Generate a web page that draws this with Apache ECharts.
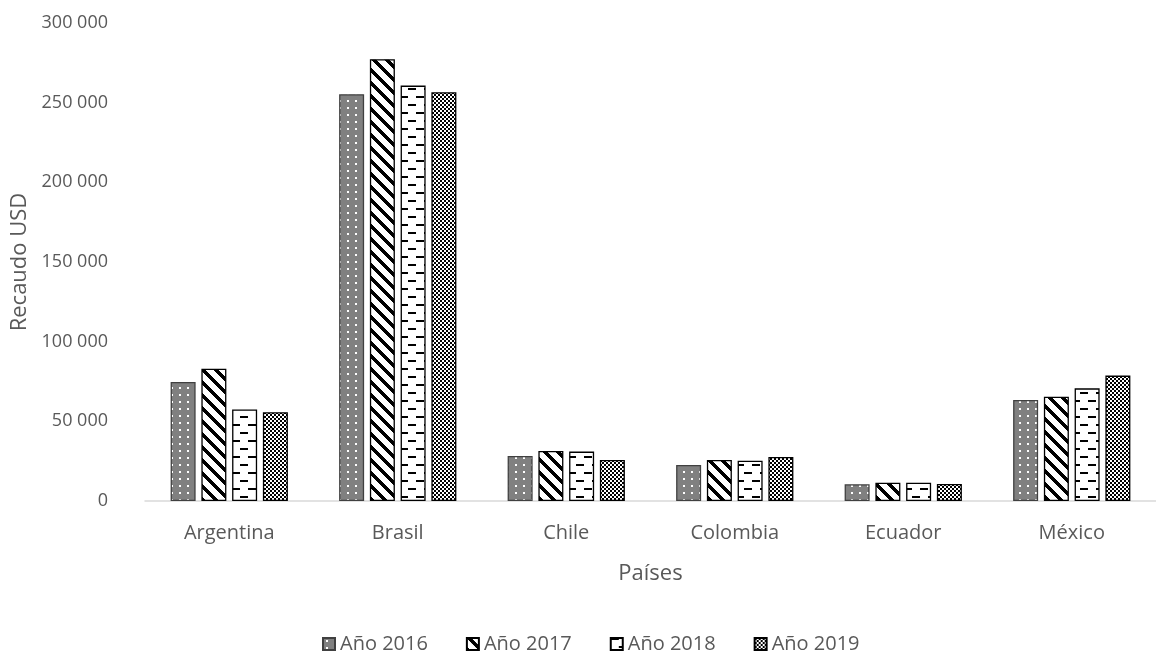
<!DOCTYPE html>
<html>
<head>
<meta charset="utf-8">
<script src="https://cdn.jsdelivr.net/npm/echarts@6/dist/echarts.min.js"></script>
<style>
html,body{margin:0;padding:0;background:#fff;}
#chart{width:1156px;height:651px;}
</style>
</head>
<body>
<div id="chart"></div>
<script>
const categories = ['Argentina', 'Brasil', 'Chile', 'Colombia', 'Ecuador', 'México'];
const seriesNames = ['Año 2016', 'Año 2017', 'Año 2018', 'Año 2019'];
const values2016 = [74700, 255300, 28200, 22600, 10500, 63400];
const values2017 = [83000, 277300, 31400, 25700, 11500, 65500];
const values2018 = [57500, 260700, 31000, 25300, 11500, 70700];
const values2019 = [55700, 256500, 25700, 27600, 10700, 78700];
const yTicks = [0, 50000, 100000, 150000, 200000, 250000, 300000];

function makeTile(w, h, fn) {
  const c = document.createElement('canvas');
  c.width = w; c.height = h;
  const ctx = c.getContext('2d');
  const img = ctx.createImageData(w, h);
  for (let y = 0; y < h; y++) {
    for (let x = 0; x < w; x++) {
      const col = fn(x, y);
      const i = (y * w + x) * 4;
      img.data[i] = col[0]; img.data[i + 1] = col[1]; img.data[i + 2] = col[2]; img.data[i + 3] = 255;
    }
  }
  ctx.putImageData(img, 0, 0);
  return { image: c, repeat: 'repeat' };
}
const W = [255, 255, 255], B = [0, 0, 0], G = [128, 128, 128];
const pat2016 = makeTile(8, 7, (x, y) => (x >= 3 && x <= 4 && y >= 2 && y <= 3) ? W : G);
const pat2017 = makeTile(13, 13, (x, y) => ((((x - y) % 13) + 13) % 13 < 5) ? B : W);
const pat2018 = makeTile(16, 16, (x, y) => {
  if ((y === 0 || y === 1) && x < 8) return B;
  if ((y === 8 || y === 9) && x >= 8) return B;
  return W;
});
const pat2019 = makeTile(4, 4, (x, y) => ((Math.floor(x / 2) + Math.floor(y / 2)) % 2 === 0) ? B : W);

const patterns = [pat2016, pat2017, pat2018, pat2019];
const borders = ['#404040', '#000000', '#000000', '#000000'];
const allValues = [values2016, values2017, values2018, values2019];

function fmt(v) {
  return String(v).replace(/\B(?=(\d{3})+(?!\d))/g, ' ');
}

const font = '"Open Sans", "Noto Sans", sans-serif';
const txt = '#595959';

const chart = echarts.init(document.getElementById('chart'), null, { renderer: 'canvas' });
chart.setOption({
  animation: false,
  backgroundColor: '#ffffff',
  grid: { left: 145, top: 23, width: 1020, height: 478, containLabel: false },
  legend: {
    data: seriesNames,
    top: 629,
    left: 317,
    itemWidth: 12,
    itemHeight: 12,
    itemGap: 38,
    icon: 'rect',
    textStyle: { fontFamily: font, fontSize: 20, color: txt }
  },
  xAxis: {
    type: 'category',
    data: categories,
    name: 'Países',
    nameLocation: 'middle',
    nameGap: 62,
    nameTextStyle: { fontFamily: font, fontSize: 22, color: txt },
    axisLine: { show: true, lineStyle: { color: '#d9d9d9', width: 1.5 } },
    axisTick: { show: false },
    axisLabel: { fontFamily: font, fontSize: 20, color: txt, margin: 22 }
  },
  yAxis: {
    type: 'value',
    min: yTicks[0],
    max: yTicks[yTicks.length - 1],
    interval: 50000,
    name: 'Recaudo USD',
    nameLocation: 'middle',
    nameGap: 109,
    nameRotate: 90,
    nameTextStyle: { fontFamily: font, fontSize: 22, color: txt },
    axisLine: { show: false },
    axisTick: { show: false },
    splitLine: { show: false },
    axisLabel: { fontFamily: font, fontSize: 18, color: txt, margin: 37, formatter: fmt }
  },
  series: seriesNames.map((name, i) => ({
    name: name,
    type: 'bar',
    data: allValues[i],
    barWidth: 25,
    barGap: '23%',
    itemStyle: { color: patterns[i], borderColor: borders[i], borderWidth: 1.3 }
  }))
});
</script>
</body>
</html>
